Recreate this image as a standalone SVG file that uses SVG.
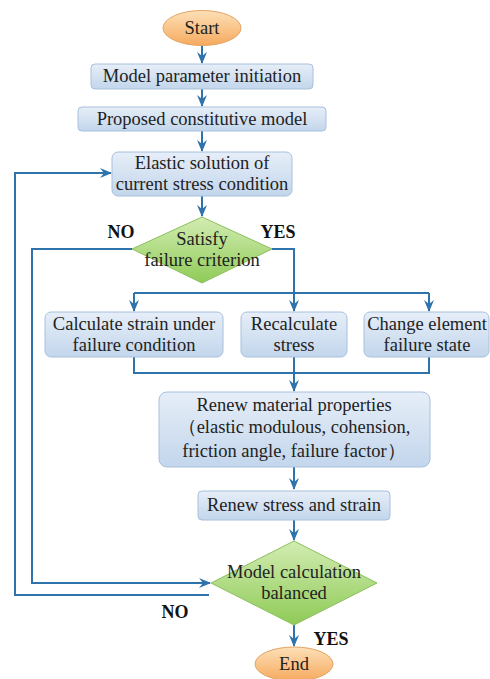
<svg xmlns="http://www.w3.org/2000/svg" width="490" height="679" viewBox="0 0 490 679">
<defs>
<linearGradient id="gBox" x1="0" y1="0" x2="0" y2="1">
<stop offset="0" stop-color="#e6eef8"/><stop offset="1" stop-color="#c3d6ec"/>
</linearGradient>
<linearGradient id="gDia" x1="0" y1="0" x2="0" y2="1">
<stop offset="0" stop-color="#d2ecb2"/><stop offset="1" stop-color="#8fcb57"/>
</linearGradient>
<linearGradient id="gOv" x1="0" y1="0" x2="0" y2="1">
<stop offset="0" stop-color="#fde0b8"/><stop offset="1" stop-color="#f6aa5e"/>
</linearGradient>
<marker id="arr" viewBox="0 0 12 10" refX="11" refY="5" markerWidth="12" markerHeight="10" markerUnits="userSpaceOnUse" orient="auto">
<path d="M0,0 L12,5 L0,10 L4,5 z" fill="#2f73ad"/>
</marker>
<style>
.box{fill:url(#gBox);stroke:#a8c0dc;stroke-width:1}
.dia{fill:url(#gDia);stroke:#8cbf5e;stroke-width:1}
.ov{fill:url(#gOv);stroke:#e2a463;stroke-width:1}
.t{font-size:18.5px;fill:#222;text-anchor:middle}
.lbl{font-size:18px;font-weight:bold;fill:#111;text-anchor:middle}
.c{fill:none;stroke:#2f73ad;stroke-width:2}
</style>
</defs>
<g id="connectors">
<path class="c" d="M202,46 V63" marker-end="url(#arr)"/>
<path class="c" d="M202,89 V106" marker-end="url(#arr)"/>
<path class="c" d="M202,131 V151" marker-end="url(#arr)"/>
<path class="c" d="M202,196 V216" marker-end="url(#arr)"/>
<path class="c" d="M272,249 H294 V293"/>
<path class="c" d="M134,293 H429"/>
<path class="c" d="M134,293 V311" marker-end="url(#arr)"/>
<path class="c" d="M294,293 V311" marker-end="url(#arr)"/>
<path class="c" d="M429,293 V311" marker-end="url(#arr)"/>
<path class="c" d="M134,357 V373 H429 V357"/>
<path class="c" d="M294,357 V391" marker-end="url(#arr)"/>
<path class="c" d="M294,467 V489" marker-end="url(#arr)"/>
<path class="c" d="M294,520 V540" marker-end="url(#arr)"/>
<path class="c" d="M132,249 H32 V583 H210" marker-end="url(#arr)"/>
<path class="c" d="M209,595 H15 V173 H111" marker-end="url(#arr)"/>
<path class="c" d="M294,625 V646" marker-end="url(#arr)"/>
</g>
<g font-family="Liberation Serif, Times New Roman, serif">
<g id="start">
<ellipse class="ov" cx="202" cy="28" rx="39" ry="17.5"/>
<text class="t" x="202" y="34">Start</text>
</g>
<g id="init">
<rect class="box" x="91" y="64" width="222" height="25" rx="4"/>
<text class="t" x="202" y="82">Model parameter initiation</text>
</g>
<g id="model">
<rect class="box" x="78" y="107" width="248" height="24" rx="4"/>
<text class="t" x="202" y="125">Proposed constitutive model</text>
</g>
<g id="elastic">
<rect class="box" x="112" y="152" width="180" height="44" rx="6"/>
<text class="t" x="202" y="169">Elastic solution of</text>
<text class="t" x="202" y="190">current stress condition</text>
</g>
<g id="satisfy">
<path class="dia" d="M202,217 L272,249 L202,283 L132,249 Z"/>
<text class="t" x="202" y="245">Satisfy</text>
<text class="t" x="202" y="266">failure criterion</text>
</g>
<g id="calc">
<rect class="box" x="45" y="312" width="178" height="45" rx="6"/>
<text class="t" x="134" y="330">Calculate strain under</text>
<text class="t" x="134" y="351">failure condition</text>
</g>
<g id="recalc">
<rect class="box" x="241" y="312" width="106" height="45" rx="6"/>
<text class="t" x="294" y="330">Recalculate</text>
<text class="t" x="294" y="351">stress</text>
</g>
<g id="change">
<rect class="box" x="364" y="312" width="125" height="45" rx="6"/>
<text class="t" x="427" y="330">Change element</text>
<text class="t" x="427" y="351">failure state</text>
</g>
<g id="renew">
<rect class="box" x="159" y="392" width="271" height="75" rx="8"/>
<text class="t" x="294" y="411">Renew material properties</text>
<text class="t" x="294" y="433">（elastic modulous, cohension,</text>
<text class="t" x="294" y="457">friction angle, failure factor）</text>
</g>
<g id="renew2">
<rect class="box" x="198" y="491" width="192" height="29" rx="4"/>
<text class="t" x="294" y="511">Renew stress and strain</text>
</g>
<g id="balanced">
<path class="dia" d="M294,541 L377,583 L294,625 L211,583 Z"/>
<text class="t" x="294" y="578">Model calculation</text>
<text class="t" x="294" y="599">balanced</text>
</g>
<g id="end">
<ellipse class="ov" cx="294" cy="664" rx="39" ry="17"/>
<text class="t" x="294" y="670">End</text>
</g>
<g id="labels">
<text class="lbl" x="121" y="238">NO</text>
<text class="lbl" x="278" y="238">YES</text>
<text class="lbl" x="175" y="618">NO</text>
<text class="lbl" x="331" y="645">YES</text>
</g>
</g>
</svg>
